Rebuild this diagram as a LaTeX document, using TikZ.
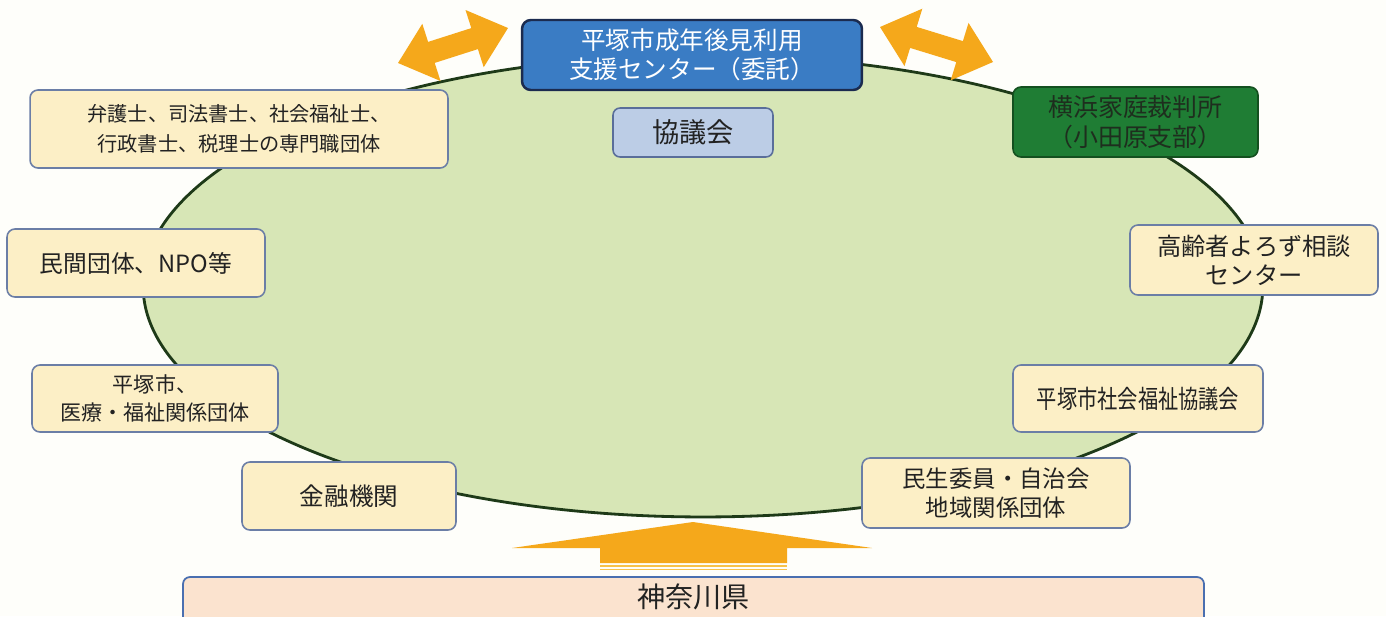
\documentclass[tikz,border=0pt]{standalone}
\usepackage{fontspec}
\setmainfont{Noto Sans CJK JP}
\newfontfamily\condjp[FakeStretch=0.8]{Noto Sans CJK JP}
\usetikzlibrary{calc}
\definecolor{bgc}{HTML}{FEFEFA}
\definecolor{cream}{HTML}{FCEFC6}
\definecolor{boxline}{HTML}{6B7EA6}
\definecolor{ellfill}{HTML}{D7E6B6}
\definecolor{ellline}{HTML}{1E3A18}
\definecolor{bluefill}{HTML}{3A7CC4}
\definecolor{blueline}{HTML}{1B2B4F}
\definecolor{kyfill}{HTML}{BCCDE6}
\definecolor{kyline}{HTML}{5A6E9A}
\definecolor{grfill}{HTML}{1F7D34}
\definecolor{grline}{HTML}{14501F}
\definecolor{grtext}{HTML}{1E2E1E}
\definecolor{orng}{HTML}{F5A81B}
\definecolor{orngl}{HTML}{F7C24A}
\definecolor{peach}{HTML}{FBE3CF}
\definecolor{barline}{HTML}{4A6FB0}
\definecolor{txt}{HTML}{222222}
\tikzset{
  cbox/.style={draw=boxline, line width=0.9pt, rounded corners=4.5pt, fill=cream,
    align=center, inner sep=0pt, text=txt},
  arrowshape/.style={fill=orng, draw=none}
}
\begin{document}
\begin{tikzpicture}[x=0.02cm,y=-0.02cm]
\useasboundingbox (0,0) rectangle (1386,616);
\clip (0,0) rectangle (1386,616);
\fill[bgc] (0,0) rectangle (1386,616);

% big ellipse
\draw[line width=1.6pt, draw=ellline, fill=ellfill] (703,286) ellipse [x radius=11.2cm, y radius=4.62cm];

% double arrows
\fill[arrowshape] (398,63) -- (440.5,81.0) -- (434.7,62.9) -- (477.9,49.1) -- (483.7,67.2)
  -- (508,28) -- (465.5,10.0) -- (471.3,28.1) -- (428.1,41.9) -- (422.3,23.8) -- cycle;
\fill[arrowshape] (880,27) -- (922.3,8.7) -- (916.7,26.9) -- (962.9,41.1) -- (968.5,22.9)
  -- (993,62) -- (950.7,80.3) -- (956.3,62.1) -- (910.1,47.9) -- (904.5,66.1) -- cycle;

% bottom arrow
\fill[arrowshape] (512,548) -- (693,522) -- (872,548) -- (787,548) -- (787,563)
  -- (600,563) -- (600,548) -- cycle;
\draw[orngl, line width=0.9pt] (600,566) -- (787,566);
\draw[orngl, line width=0.9pt] (600,569.5) -- (787,569.5);

% bottom bar
\draw[fill=peach, draw=barline, line width=1pt, rounded corners=4pt] (183,577) rectangle (1204,630);
\node[font=\fontsize{16}{19}\selectfont, text=txt] (kanagawa) at (693.5,597) {神奈川県};

% boxes
\node[draw=blueline, line width=1.4pt, rounded corners=5pt, fill=bluefill, text=white,
  align=center, inner sep=0pt, minimum width=6.8cm, minimum height=1.4cm,
  font=\fontsize{14}{16.8}\selectfont] (center) at (692,55) {平塚市成年後見利用\\支援センター（委託）};

\node[draw=kyline, line width=0.9pt, rounded corners=4pt, fill=kyfill, text=txt,
  inner sep=0pt, minimum width=3.2cm, minimum height=0.98cm,
  font=\fontsize{15.5}{18}\selectfont] (kyogikai) at (693,132.5) {協議会};

\node[draw=grline, line width=0.9pt, rounded corners=4.5pt, fill=grfill, text=grtext,
  align=center, inner sep=0pt, minimum width=4.9cm, minimum height=1.4cm,
  font=\fontsize{14.2}{16.8}\selectfont] (court) at (1135.5,122) {横浜家庭裁判所\\（小田原支部）};

\node[cbox, minimum width=4.96cm, minimum height=1.4cm, font=\fontsize{13.8}{16.5}\selectfont]
  (koreisha) at (1254,260) {高齢者よろず相談\\センター};
\node[cbox, minimum width=5.0cm, minimum height=1.34cm, font=\condjp\fontsize{14.4}{17}\selectfont]
  (shakyo) at (1138,398.5) {平塚市社会福祉協議会};
\node[cbox, minimum width=5.36cm, minimum height=1.4cm, font=\fontsize{13.3}{16.5}\selectfont]
  (minsei) at (996,493) {民生委員・自治会\\地域関係団体};
\node[cbox, minimum width=4.28cm, minimum height=1.36cm, font=\fontsize{14}{16.8}\selectfont]
  (kinyu) at (349,496) {金融機関};
\node[cbox, minimum width=4.92cm, minimum height=1.34cm, font=\fontsize{12}{15.5}\selectfont]
  (iryo) at (155,398.5) {平塚市、\\医療・福祉関係団体};
\node[cbox, minimum width=5.16cm, minimum height=1.36cm, font=\fontsize{13.5}{16}\selectfont]
  (minkan) at (136,263) {民間団体、NPO等};
\node[cbox, minimum width=8.36cm, minimum height=1.56cm, font=\fontsize{11.5}{17}\selectfont]
  (senmon) at (239,129) {弁護士、司法書士、社会福祉士、\\行政書士、税理士の専門職団体};
\end{tikzpicture}
\end{document}
